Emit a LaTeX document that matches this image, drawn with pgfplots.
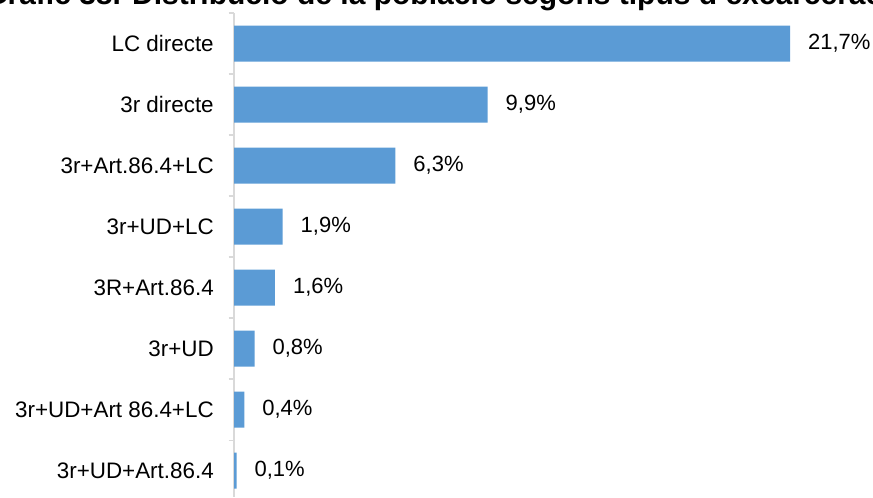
\documentclass[border=0pt]{standalone}
\usepackage{pgfplots}
\pgfplotsset{compat=1.18}
\usepackage{fontspec}
\setmainfont{Liberation Sans}
\definecolor{barblue}{HTML}{5B9BD5}
\definecolor{axgray}{HTML}{D9D9D9}
\begin{document}
\begin{tikzpicture}
% image frame: 873 x 497 px at 0.75pt per px
\path[use as bounding box, clip] (0,0) rectangle (654.75pt,372.75pt);
\node[anchor=base west, inner sep=0pt, font=\fontsize{22.5}{26}\selectfont\bfseries]
  at (-12pt,369pt) {Gràfic 38. Distribució de la població segons tipus d'excarceració};
\begin{axis}[
    at={(175.5pt,0pt)}, anchor=south west,
    scale only axis,
    width=461.2pt, height=363pt,
    xmin=0, xmax=24,
    ymin=-0.5, ymax=7.434,
    y dir=reverse,
    axis x line=none,
    axis y line*=left,
    y axis line style={-, draw=axgray, line width=0.8pt},
    ytick={0,...,7},
    yticklabels={LC directe, 3r directe, 3r+Art.86.4+LC, 3r+UD+LC, 3R+Art.86.4, 3r+UD, 3r+UD+Art 86.4+LC, 3r+UD+Art.86.4},
    major tick length=0pt,
    yticklabel style={font=\fontsize{16.8}{19}\selectfont, inner sep=0pt, xshift=-15pt},
    extra y ticks={-0.5,0.5,...,6.5},
    extra y tick labels={},
    extra y tick style={major tick length=4pt, tick align=outside, tick style={draw=axgray, line width=0.8pt}},
    clip=false,
  ]
  \addplot[xbar, bar width=27pt, fill=barblue, draw=none,
    nodes near coords={\pgfmathprintnumber[fixed, fixed zerofill, precision=1, use comma, assume math mode=true]{\pgfplotspointmeta}\%},
    nodes near coords align={horizontal},
    every node near coord/.append style={font=\fontsize{16.5}{19}\selectfont, text=black, anchor=west, xshift=10pt},
  ] coordinates {
    (21.7,0) (9.9,1) (6.3,2) (1.9,3) (1.6,4) (0.8,5) (0.4,6) (0.1,7)
  };
\end{axis}
\end{tikzpicture}
\end{document}
